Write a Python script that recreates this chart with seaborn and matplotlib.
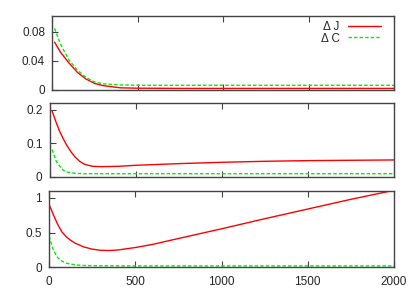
import matplotlib
matplotlib.use("Agg")
import matplotlib.pyplot as plt
import seaborn as sns

# Panel 1 (top)
x1_j = [15, 50, 100, 150, 200, 250, 300, 400, 500, 750, 1000, 1500, 2000]
j1 = [0.066, 0.052, 0.037, 0.024, 0.015, 0.009, 0.006, 0.003, 0.0025, 0.0022, 0.0022, 0.0022, 0.0022]
x1_c = [15, 50, 100, 150, 200, 250, 300, 400, 500, 750, 1000, 1500, 2000]
c1 = [0.085, 0.063, 0.041, 0.027, 0.017, 0.011, 0.0085, 0.007, 0.0065, 0.0065, 0.0065, 0.0065, 0.0065]

# Panel 2 (middle)
x2_j = [15, 40, 60, 80, 100, 125, 150, 175, 200, 225, 250, 300, 400, 500, 750, 1000, 1250, 1500, 1750, 2000]
j2 = [0.196, 0.16, 0.134, 0.113, 0.094, 0.074, 0.058, 0.046, 0.038, 0.034, 0.031, 0.030, 0.031, 0.034,
      0.039, 0.043, 0.046, 0.048, 0.049, 0.050]
x2_c = [15, 40, 60, 80, 100, 150, 200, 500, 1000, 1500, 2000]
c2 = [0.081, 0.045, 0.031, 0.019, 0.014, 0.010, 0.009, 0.009, 0.009, 0.009, 0.009]

# Panel 3 (bottom)
x3_j = [0, 25, 50, 75, 100, 125, 150, 200, 250, 300, 350, 400, 500, 600, 750, 1000, 1250, 1500, 1750, 2000]
j3 = [0.91, 0.76, 0.62, 0.51, 0.44, 0.39, 0.35, 0.295, 0.262, 0.245, 0.242, 0.25, 0.285, 0.33,
      0.415, 0.555, 0.70, 0.84, 0.98, 1.11]
x3_c = [0, 25, 50, 75, 100, 150, 200, 300, 500, 1000, 1500, 2000]
c3 = [0.45, 0.25, 0.14, 0.09, 0.06, 0.035, 0.026, 0.022, 0.02, 0.02, 0.02, 0.02]

x_ticks = [0, 500, 1000, 1500, 2000]
y_ticks = [[0, 0.04, 0.08], [0, 0.1, 0.2], [0, 0.5, 1]]
y_ticklabels = [["0", "0.04", "0.08"], ["0", "0.1", "0.2"], ["0", "0.5", "1"]]
y_lims = [(0, 0.102), (0, 0.22), (0, 1.1)]
labels = ["\u0394 J", "\u0394 C"]

sns.set_style("white")
plt.rcParams['font.family'] = ['Liberation Sans', 'DejaVu Sans']
plt.rcParams['font.size'] = 8

fig = plt.figure(figsize=(4.15, 2.91), dpi=100)
positions = [
    [52 / 415, 1 - 90 / 291, (394 - 52) / 415, (90 - 16) / 291],
    [49.5 / 415, 1 - 176.7 / 291, (394 - 49.5) / 415, (176.7 - 103) / 291],
    [49 / 415, 1 - 267.3 / 291, (394 - 49) / 415, (267.3 - 191) / 291],
]
data = [(x1_j, j1, x1_c, c1), (x2_j, j2, x2_c, c2), (x3_j, j3, x3_c, c3)]

for i, (pos, (xj, yj, xc, yc)) in enumerate(zip(positions, data)):
    ax = fig.add_axes(pos)
    sns.lineplot(x=xj, y=yj, ax=ax, color="#ff0000", linewidth=1.0, label=labels[0])
    sns.lineplot(x=xc, y=yc, ax=ax, color="#00ee00", linewidth=1.0, label=labels[1])
    ax.lines[1].set_dashes((2.5, 1.5))
    ax.set_xlim(0, 2000)
    ax.set_ylim(*y_lims[i])
    ax.set_xticks(x_ticks)
    ax.set_yticks(y_ticks[i])
    ax.set_yticklabels(y_ticklabels[i])
    if i < 2:
        ax.set_xticklabels([])
    ax.tick_params(direction="in", length=4, width=0.8, color="#444444",
                   top=True, right=False, bottom=True, left=True, labelsize=8.5)
    ax.tick_params(axis="x", pad=6.5)
    ax.tick_params(axis="y", pad=5)
    for s in ax.spines.values():
        s.set_color("#444444")
        s.set_linewidth(1.0)
    ax.set_xlabel("")
    ax.set_ylabel("")
    if i == 0:
        leg = ax.legend(loc="upper right", bbox_to_anchor=(0.961, 0.93),
                        frameon=False, markerfirst=False,
                        handlelength=2.8, handletextpad=0.68, labelspacing=-0.05,
                        fontsize=8.5, borderaxespad=0.0, borderpad=0.0)
    else:
        ax.get_legend().remove()

fig.savefig("out.png", dpi=100)
